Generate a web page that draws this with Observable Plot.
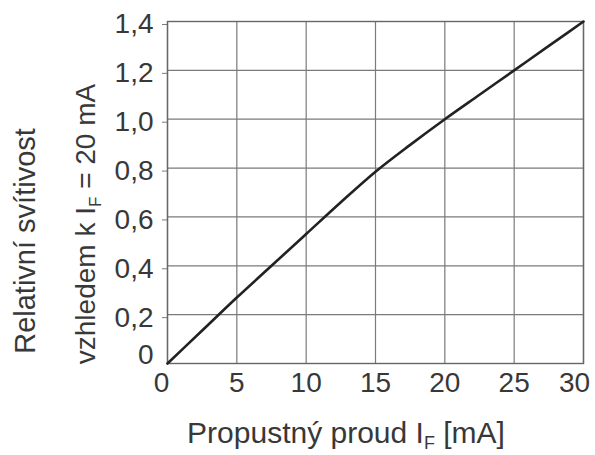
<!DOCTYPE html>
<html>
<head>
<meta charset="utf-8">
<script src="https://cdn.jsdelivr.net/npm/d3@7"></script>
<script src="https://cdn.jsdelivr.net/npm/@observablehq/plot@0.6"></script>
<style>
  html, body { margin: 0; padding: 0; background: #fff; }
  #chart svg { display: block; }
</style>
</head>
<body>
<div id="chart"></div>
<script>
// Data
const current = [0, 2.5, 5, 7.5, 10, 12.5, 15, 17.5, 20, 22.5, 25, 27.5, 30];                 // I_F [mA]
const luminosity = [0, 0.135, 0.27, 0.40, 0.53, 0.66, 0.785, 0.895, 1.0, 1.1, 1.2, 1.3, 1.4]; // relative
const xTicks = [0, 5, 10, 15, 20, 25, 30];
const yTicks = [0, 0.2, 0.4, 0.6, 0.8, 1.0, 1.2, 1.4];
const xTitle = ["Propustný proud I", "F", " [mA]"];
const yTitle1 = "Relativní svítivost";
const yTitle2 = ["vzhledem k I", "F", " = 20 mA"];

const data = current.map((c, i) => ({x: c, y: luminosity[i]}));
const fmtY = d => d === 0 ? "0" : d.toFixed(1).replace(".", ",");
const textColor = "#383838";
const font = "Liberation Sans, Arial, sans-serif";

const svg = Plot.plot({
  width: 595,
  height: 455,
  marginLeft: 167,
  marginRight: 12,
  marginTop: 21,
  marginBottom: 92,
  style: {fontFamily: font, fontSize: "28px", color: textColor, background: "#fff"},
  x: {domain: [0, 30]},
  y: {domain: [0, 1.4]},
  marks: [
    Plot.ruleX(xTicks, {stroke: "#7a7a7a", strokeWidth: 1.2}),
    Plot.ruleY(yTicks, {stroke: "#7a7a7a", strokeWidth: 1.2}),
    Plot.frame({stroke: "#666", strokeWidth: 1.4}),
    Plot.axisX({ticks: xTicks.filter(d => d > 0 && d < 30), tickSize: 0, tickPadding: 9, fontSize: 28, fill: textColor, label: null}),
    Plot.axisX({ticks: [0], tickSize: 0, tickPadding: 9, dx: -6, fontSize: 28, fill: textColor, label: null}),
    Plot.axisX({ticks: [30], tickSize: 0, tickPadding: 9, dx: -9, fontSize: 28, fill: textColor, label: null}),
    Plot.axisY({ticks: yTicks.filter(d => d !== 0), tickFormat: fmtY, tickSize: 5, stroke: "#7a7a7a", tickPadding: 9, dy: 3, fontSize: 28, fill: textColor, label: null}),
    Plot.axisY({ticks: [0], tickFormat: fmtY, tickSize: 0, tickPadding: 14, dy: -8, fontSize: 28, fill: textColor, label: null}),
    Plot.line(data, {x: "x", y: "y", curve: "monotone-x", stroke: "#222", strokeWidth: 2.6})
  ]
});

const s = d3.select(svg);
function addTitle(parts, attrs, size) {
  const t = s.append("text")
    .attr("font-family", font)
    .attr("font-size", size)
    .attr("fill", textColor)
    .attr("text-anchor", "middle");
  Object.entries(attrs).forEach(([k, v]) => t.attr(k, v));
  if (typeof parts === "string") { t.text(parts); return t; }
  t.append("tspan").text(parts[0]);
  t.append("tspan").attr("font-size", Math.round(size * 0.6)).attr("dy", 6).text(parts[1]);
  t.append("tspan").attr("dy", -6).text(parts[2]);
  return t;
}
addTitle(xTitle, {x: 346, y: 443}, 30);
addTitle(yTitle1, {transform: "translate(35,241) rotate(-90)"}, 29);
addTitle(yTitle2, {transform: "translate(95,224) rotate(-90)"}, 28);

document.getElementById("chart").appendChild(svg);
</script>
</body>
</html>
